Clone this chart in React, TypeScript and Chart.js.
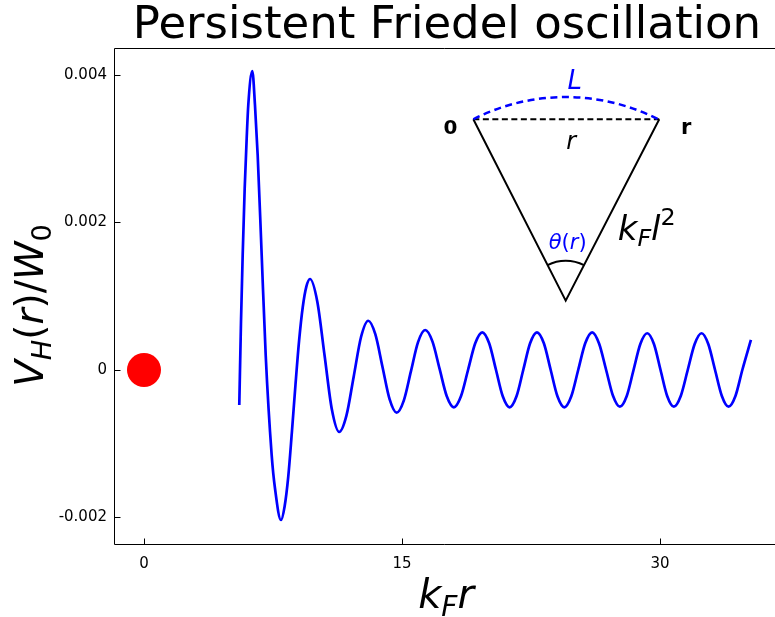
import React, { useEffect, useRef } from "react";
import { Chart, registerables } from "chart.js";

Chart.register(...registerables);

// ---- data ----
const krValues = [
  5.541, 5.64, 5.738, 5.855, 5.971, 6.064, 6.297, 6.453, 6.61, 6.843, 7.076, 7.424,
  7.616, 7.965, 8.176, 8.387, 8.597, 8.808, 9.02, 9.23, 9.44, 9.651,
  10.075, 10.5, 10.925, 11.35, 11.77, 12.195, 12.62, 13.04, 13.45, 13.865, 14.28,
  14.69, 15.105, 15.52, 15.935, 16.35, 16.77, 17.185, 17.6, 18.02, 18.43, 18.845,
  19.26, 19.67, 20.07, 20.465, 20.86, 21.26, 21.66, 22.055, 22.45, 22.85, 23.25,
  23.645, 24.04, 24.44, 24.845, 25.25, 25.655, 26.06, 26.46, 26.865, 27.27, 27.67,
  28.07, 28.465, 28.86, 29.26, 29.65, 30.035, 30.42, 30.81, 31.21, 31.615, 32.02,
  32.42, 32.81, 33.205, 33.6, 33.99, 34.39, 34.79, 35.29,
];
const vhValues = [
  -0.475e-3, 0.655e-3, 1.56e-3, 2.464e-3, 3.142e-3, 3.593e-3, 4.054e-3, 3.593e-3,
  2.915e-3, 1.559e-3, 0.203e-3, -1.153e-3, -1.604e-3, -2.034e-3, -1.85e-3,
  -1.45e-3, -0.85e-3, -0.2e-3, 0.4e-3, 0.85e-3, 1.13e-3, 1.234e-3,
  0.93e-3, 0.197e-3, -0.537e-3, -0.841e-3, -0.62e-3, -0.087e-3, 0.447e-3, 0.668e-3,
  0.485e-3, 0.045e-3, -0.396e-3, -0.579e-3, -0.415e-3, -0.019e-3, 0.378e-3,
  0.542e-3, 0.388e-3, 0.018e-3, -0.352e-3, -0.506e-3, -0.357e-3, 0.003e-3,
  0.362e-3, 0.511e-3, 0.362e-3, 0.003e-3, -0.357e-3, -0.506e-3, -0.357e-3,
  0.003e-3, 0.362e-3, 0.511e-3, 0.362e-3, 0.003e-3, -0.357e-3, -0.506e-3,
  -0.357e-3, 0.003e-3, 0.362e-3, 0.511e-3, 0.359e-3, 0.007e-3, -0.35e-3,
  -0.498e-3, -0.352e-3, 0, 0.352e-3, 0.498e-3, 0.352e-3, 0, -0.352e-3, -0.498e-3,
  -0.352e-3, 0, 0.352e-3, 0.498e-3, 0.352e-3, 0, -0.352e-3, -0.498e-3, -0.352e-3,
  0, 0.407e-3,
];
const impurityX = [0];
const impurityY = [0];
// inset triangle: vertex "0", apex, vertex "r" (data coordinates)
const insetX = [19.15, 24.52, 29.96];
const insetY = [0.0034, 0.00094, 0.0034];

const xTicks = [0, 15, 30];
const xTickLabels = ["0", "15", "30"];
const yTicks = [-0.002, 0, 0.002, 0.004];
const yTickLabels = ["-0.002", "0", "0.002", "0.004"];
const xRange = [-1.744, 36.69];
const yRange = [-0.002373, 0.004366];

const titleText = "Persistent Friedel oscillation";

const FAMILY = "'DejaVu Sans', 'Noto Sans', sans-serif";

type Seg = { t: string; it?: boolean; b?: boolean; s?: number; dy?: number };

function fontOf(sg: Seg, size: number) {
  return `${sg.it ? "italic " : ""}${sg.b ? "bold " : ""}${size * (sg.s || 1)}px ${FAMILY}`;
}

function drawRich(
  ctx: CanvasRenderingContext2D,
  segs: Seg[],
  x: number,
  y: number,
  size: number,
  color: string,
  align: "center" | "left"
) {
  ctx.fillStyle = color;
  ctx.textBaseline = "alphabetic";
  ctx.textAlign = "left";
  const widths = segs.map((sg) => {
    ctx.font = fontOf(sg, size);
    return ctx.measureText(sg.t).width;
  });
  const total = widths.reduce((a, b) => a + b, 0);
  let cx = align === "center" ? x - total / 2 : x;
  segs.forEach((sg, i) => {
    ctx.font = fontOf(sg, size);
    ctx.fillText(sg.t, cx, y + (sg.dy || 0) * size);
    cx += widths[i];
  });
}

const decorPlugin = {
  id: "decor",
  afterDatasetsDraw(chart: any) {
    const { ctx, chartArea: ca } = chart;
    const xs = chart.scales.x;
    const ys = chart.scales.y;
    ctx.save();

    // frame: left, top, bottom spines
    ctx.strokeStyle = "#000";
    ctx.lineWidth = 1;
    ctx.setLineDash([]);
    ctx.beginPath();
    ctx.moveTo(ca.right, ca.top + 0.5);
    ctx.lineTo(ca.left + 0.5, ca.top + 0.5);
    ctx.lineTo(ca.left + 0.5, ca.bottom - 0.5);
    ctx.lineTo(ca.right, ca.bottom - 0.5);
    ctx.stroke();

    // inward ticks
    ctx.beginPath();
    yTicks.forEach((v) => {
      const py = Math.round(ys.getPixelForValue(v)) + 0.5;
      ctx.moveTo(ca.left, py);
      ctx.lineTo(ca.left + 6.5, py);
    });
    xTicks.forEach((v) => {
      const px = Math.round(xs.getPixelForValue(v)) + 0.5;
      ctx.moveTo(px, ca.bottom);
      ctx.lineTo(px, ca.bottom - 6.5);
    });
    ctx.stroke();

    // inset arcs
    const p0 = { x: xs.getPixelForValue(insetX[0]), y: ys.getPixelForValue(insetY[0]) };
    const pa = { x: xs.getPixelForValue(insetX[1]), y: ys.getPixelForValue(insetY[1]) };
    const p1 = { x: xs.getPixelForValue(insetX[2]), y: ys.getPixelForValue(insetY[2]) };
    const a0 = Math.atan2(p0.y - pa.y, p0.x - pa.x);
    const a1 = Math.atan2(p1.y - pa.y, p1.x - pa.x);
    const R = Math.hypot(p0.x - pa.x, p0.y - pa.y);

    ctx.strokeStyle = "#0000ff";
    ctx.lineWidth = 2.5;
    ctx.setLineDash([7, 4.5]);
    ctx.beginPath();
    ctx.arc(pa.x, pa.y, R, a0, a1, false);
    ctx.stroke();

    ctx.setLineDash([]);
    ctx.strokeStyle = "#000";
    ctx.lineWidth = 2;
    ctx.beginPath();
    ctx.arc(pa.x, pa.y, 40, a0, a1, false);
    ctx.stroke();

    // inset labels
    const topMid = (p0.x + p1.x) / 2;
    drawRich(ctx, [{ t: "0", b: true }], p0.x - 23, p0.y + 15, 20, "#000", "center");
    drawRich(ctx, [{ t: "r", b: true }], p1.x + 27, p1.y + 14.5, 21, "#000", "center");
    drawRich(ctx, [{ t: "r", it: true }], topMid + 5, p0.y + 30, 24, "#000", "center");
    drawRich(ctx, [{ t: "L", it: true }], pa.x + 9, pa.y - R - 8, 26, "#0000ff", "center");
    drawRich(
      ctx,
      [{ t: "θ", it: true }, { t: "(" }, { t: "r", it: true }, { t: ")" }],
      pa.x + 2,
      pa.y - 52,
      21,
      "#0000ff",
      "center"
    );
    drawRich(
      ctx,
      [
        { t: "k", it: true },
        { t: "F", it: true, s: 0.7, dy: 0.2 },
        { t: "l", it: true },
        { t: "2", s: 0.7, dy: -0.42 },
      ],
      pa.x + 52,
      pa.y - 61,
      34,
      "#000",
      "left"
    );

    // title
    ctx.fillStyle = "#000";
    ctx.font = `45px ${FAMILY}`;
    ctx.textAlign = "center";
    ctx.textBaseline = "alphabetic";
    ctx.fillText(titleText, 447, 38);

    // x axis label
    drawRich(
      ctx,
      [
        { t: "k", it: true },
        { t: "F", it: true, s: 0.7, dy: 0.2 },
        { t: "r", it: true },
      ],
      446,
      608,
      40,
      "#000",
      "center"
    );

    // y axis label
    ctx.save();
    ctx.translate(43, (ca.top + ca.bottom) / 2 + 9);
    ctx.rotate(-Math.PI / 2);
    drawRich(
      ctx,
      [
        { t: "V", it: true },
        { t: "H", it: true, s: 0.7, dy: 0.2 },
        { t: "(" },
        { t: "r", it: true },
        { t: ")" },
        { t: "/" },
        { t: "W", it: true },
        { t: "0", s: 0.7, dy: 0.2 },
      ],
      0,
      0,
      39,
      "#000",
      "center"
    );
    ctx.restore();

    ctx.restore();
  },
};

function labelFor(values: number[], labels: string[], v: number) {
  const i = values.findIndex((t) => Math.abs(t - v) < 1e-12);
  return i >= 0 ? labels[i] : "";
}

export default function App() {
  const ref = useRef<HTMLCanvasElement | null>(null);

  useEffect(() => {
    if (!ref.current) return;
    const chart = new Chart(ref.current, {
      type: "line",
      data: {
        datasets: [
          {
            data: krValues.map((x, i) => ({ x, y: vhValues[i] })),
            borderColor: "#0000ff",
            borderWidth: 2.7,
            pointRadius: 0,
            cubicInterpolationMode: "monotone",
            fill: false,
          },
          {
            data: insetX.map((x, i) => ({ x, y: insetY[i] })),
            borderColor: "#000",
            borderWidth: 2,
            pointRadius: 0,
            tension: 0,
            fill: false,
          },
          {
            data: [
              { x: insetX[0], y: insetY[0] },
              { x: insetX[2], y: insetY[2] },
            ],
            borderColor: "#000",
            borderWidth: 2,
            borderDash: [6, 3.5],
            pointRadius: 0,
            fill: false,
          },
          {
            data: impurityX.map((x, i) => ({ x, y: impurityY[i] })),
            showLine: false,
            pointRadius: 17,
            pointBackgroundColor: "#ff0000",
            pointBorderWidth: 0,
            borderColor: "#ff0000",
          },
        ],
      } as any,
      options: {
        responsive: false,
        animation: false,
        devicePixelRatio: 1,
        layout: { autoPadding: false, padding: { top: 48, right: 0, left: 0, bottom: 0 } },
        plugins: {
          legend: { display: false },
          tooltip: { enabled: false },
          title: { display: false },
        },
        scales: {
          x: {
            type: "linear",
            min: xRange[0],
            max: xRange[1],
            afterBuildTicks: (s: any) => {
              s.ticks = xTicks.map((v) => ({ value: v }));
            },
            afterFit: (s: any) => {
              s.height = 72;
            },
            grid: { display: false, drawTicks: false },
            border: { display: false },
            ticks: {
              color: "#000",
              font: { family: FAMILY, size: 15 },
              padding: 10,
              maxRotation: 0,
              autoSkip: false,
              callback: (v: any) => labelFor(xTicks, xTickLabels, Number(v)),
            },
          },
          y: {
            type: "linear",
            min: yRange[0],
            max: yRange[1],
            afterBuildTicks: (s: any) => {
              s.ticks = yTicks.map((v) => ({ value: v }));
            },
            afterFit: (s: any) => {
              s.width = 114;
            },
            grid: { display: false, drawTicks: false },
            border: { display: false },
            ticks: {
              color: "#000",
              font: { family: FAMILY, size: 15 },
              padding: 7,
              autoSkip: false,
              callback: (v: any) => labelFor(yTicks, yTickLabels, Number(v)),
            },
          },
        },
      } as any,
      plugins: [decorPlugin],
    });
    return () => chart.destroy();
  }, []);

  return (
    <div style={{ position: "absolute", left: 0, top: 0, width: 775, height: 617, background: "#fff" }}>
      <canvas ref={ref} width={775} height={617} style={{ display: "block" }} />
    </div>
  );
}
